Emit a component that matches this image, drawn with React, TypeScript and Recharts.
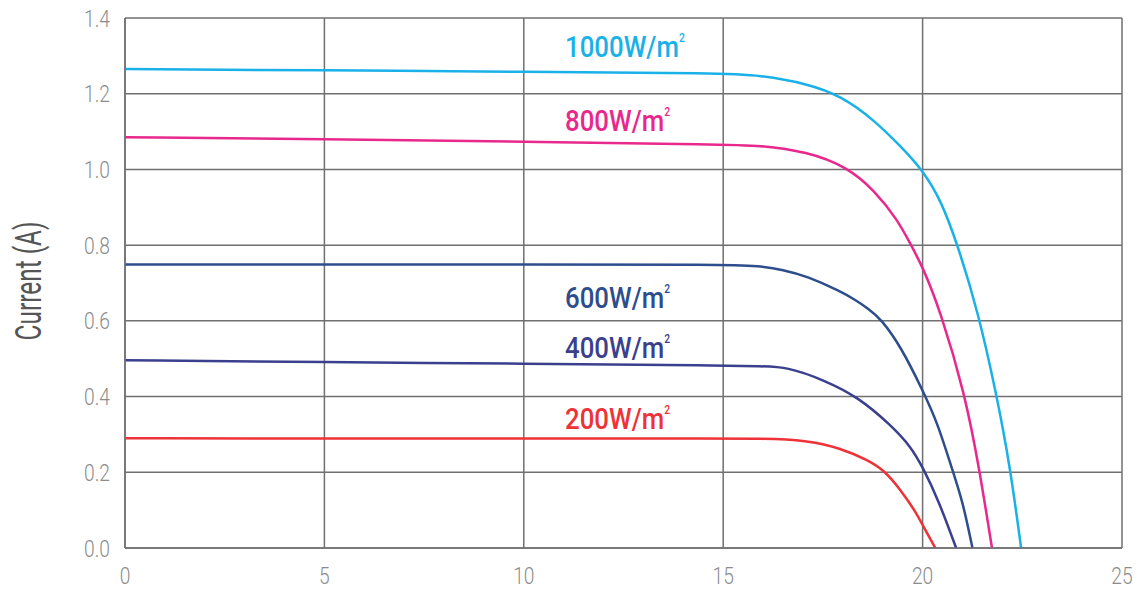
import { LineChart, Line, XAxis, YAxis, CartesianGrid } from "recharts";

// I-V curves of the panel at different irradiance levels (voltage V, current A)
const V_1000 = [0, 5, 10, 15, 15.9, 17.1, 17.96, 18.79, 19.46, 20, 20.46, 20.88, 21.38, 21.85, 22.2, 22.47];
const I_1000 = [1.265, 1.262, 1.258, 1.254, 1.249, 1.227, 1.194, 1.13, 1.06, 0.998, 0.919, 0.8, 0.628, 0.408, 0.211, 0];

const V_800 = [0, 5, 10, 15, 15.9, 17.1, 18.1, 18.79, 19.38, 19.71, 20, 20.44, 21.06, 21.42, 21.74];
const I_800 = [1.085, 1.08, 1.073, 1.066, 1.064, 1.047, 1.007, 0.945, 0.866, 0.8, 0.743, 0.628, 0.408, 0.211, 0];

const V_600 = [0, 5, 10, 15, 15.9, 16.5, 17.1, 17.96, 18.3, 18.63, 18.96, 19.46, 20, 20.38, 20.73, 21.0, 21.25];
const I_600 = [0.749, 0.749, 0.749, 0.749, 0.745, 0.735, 0.718, 0.677, 0.656, 0.633, 0.605, 0.531, 0.417, 0.329, 0.211, 0.126, 0];

const V_400 = [0, 5, 10, 15, 15.9, 16.6, 17.54, 18.38, 19.21, 19.71, 20, 20.4, 20.84];
const I_400 = [0.496, 0.491, 0.487, 0.482, 0.48, 0.479, 0.443, 0.399, 0.324, 0.267, 0.214, 0.126, 0];

const V_200 = [0, 5, 10, 15, 15.9, 17.1, 17.96, 18.63, 19.04, 19.46, 19.8, 20.03, 20.32];
const I_200 = [0.29, 0.289, 0.289, 0.289, 0.289, 0.285, 0.263, 0.232, 0.205, 0.152, 0.1, 0.055, 0];

const X_TICKS = [0, 5, 10, 15, 20, 25];
const Y_TICKS = [0, 0.2, 0.4, 0.6, 0.8, 1.0, 1.2, 1.4];

const SERIES = [
  { name: "1000", v: V_1000, i: I_1000, color: "#1ab0e8", labelY: 57 },
  { name: "800", v: V_800, i: I_800, color: "#e8288c", labelY: 131 },
  { name: "600", v: V_600, i: I_600, color: "#2d4d8c", labelY: 308 },
  { name: "400", v: V_400, i: I_400, color: "#3a3f8e", labelY: 358 },
  { name: "200", v: V_200, i: I_200, color: "#ee3237", labelY: 429 },
];

const FONT = "Roboto, 'Noto Sans', sans-serif";
const GRID = "#707070";
const TICK = "#8c8c8c";

const toPoints = (v: number[], i: number[]) => v.map((x, k) => ({ v: x, i: i[k] }));

// narrow tick labels, the original uses a condensed face
function XTick({ x, y, payload }: any) {
  return (
    <text
      transform={`translate(${x},${y}) scale(0.8,1)`}
      textAnchor="middle"
      dy="0.71em"
      fill={TICK}
      fontSize={24}
      fontWeight={300}
      fontFamily={FONT}
    >
      {payload.value}
    </text>
  );
}

function YTick({ x, y, payload }: any) {
  return (
    <text
      transform={`translate(${x},${y}) scale(0.8,1)`}
      textAnchor="end"
      dy="0.355em"
      fill={TICK}
      fontSize={24}
      fontWeight={300}
      fontFamily={FONT}
    >
      {Number(payload.value).toFixed(1)}
    </text>
  );
}

export default function App() {
  return (
    <div style={{ position: "absolute", left: 0, top: 0, width: 1137, height: 590 }}>
      <LineChart width={1137} height={590} margin={{ top: 18, right: 15, bottom: 12, left: 0 }}>
        <CartesianGrid stroke={GRID} strokeWidth={1.5} />
        <XAxis
          type="number"
          dataKey="v"
          domain={[0, 25]}
          ticks={X_TICKS}
          height={30}
          axisLine={{ stroke: GRID, strokeWidth: 1.5 }}
          tickLine={false}
          tick={<XTick />}
          tickMargin={13}
        />
        <YAxis
          type="number"
          dataKey="i"
          domain={[0, 1.4]}
          ticks={Y_TICKS}
          width={125}
          axisLine={{ stroke: GRID, strokeWidth: 1.5 }}
          tickLine={false}
          tick={<YTick />}
          tickMargin={9}
        />
        {SERIES.map((s) => (
          <Line
            key={s.name}
            data={toPoints(s.v, s.i)}
            dataKey="i"
            type="basis"
            stroke={s.color}
            strokeWidth={2.5}
            dot={false}
            isAnimationActive={false}
          />
        ))}
      </LineChart>
      <svg width={1137} height={590} style={{ position: "absolute", left: 0, top: 0, pointerEvents: "none" }}>
        <text
          transform="translate(41 281) rotate(-90) scale(0.66,1)"
          textAnchor="middle"
          fill="#555"
          fontSize={37}
          fontFamily={FONT}
        >
          Current (A)
        </text>
        {SERIES.map((s) => (
          <text
            key={s.name}
            transform={`translate(565 ${s.labelY}) scale(0.86,1)`}
            fill={s.color}
            fontSize={30}
            fontWeight={500}
            fontFamily={FONT}
          >
            {s.name}W/m
            <tspan fontSize={12} dy={-15}>
              2
            </tspan>
          </text>
        ))}
      </svg>
    </div>
  );
}
